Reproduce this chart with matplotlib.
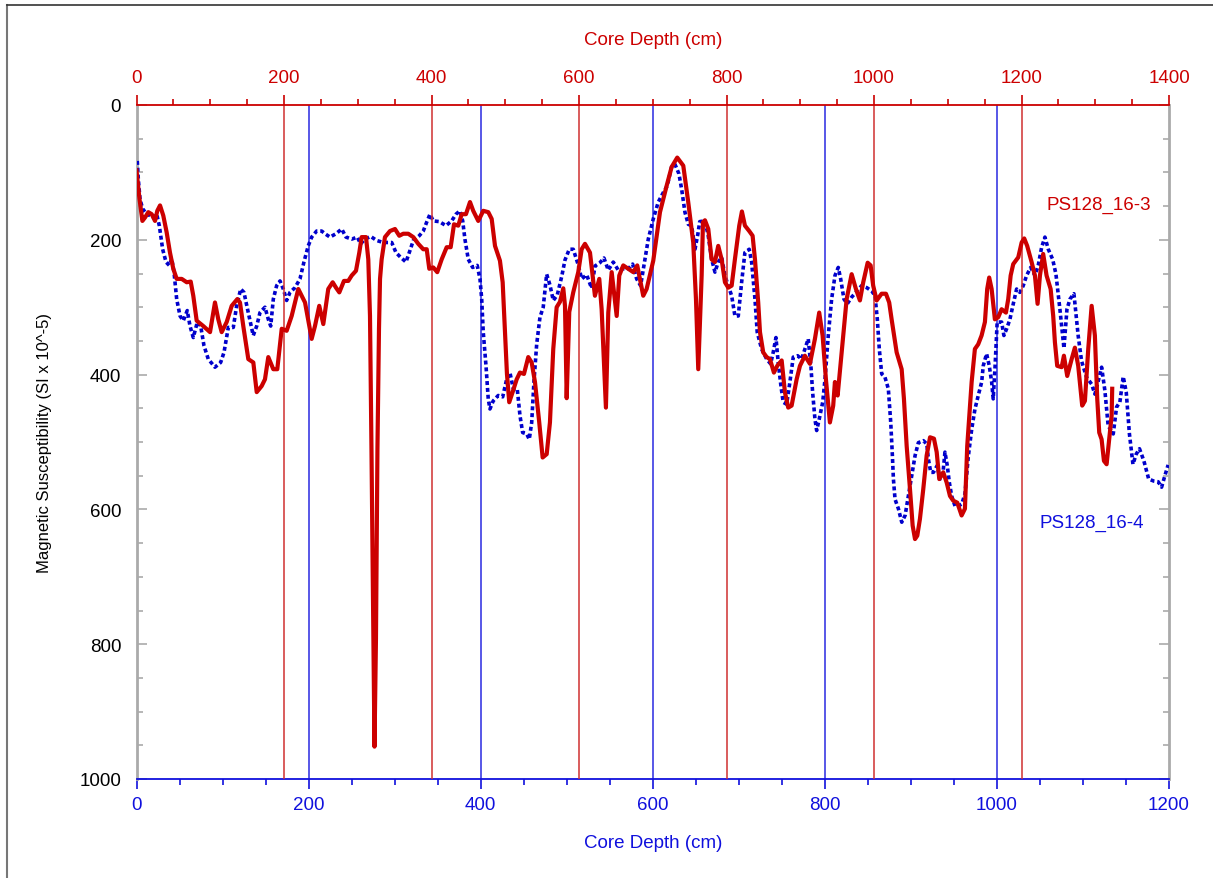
import matplotlib
matplotlib.use("Agg")
import matplotlib.pyplot as plt
from matplotlib.ticker import MultipleLocator
from matplotlib.lines import Line2D

plt.rcParams['font.family'] = ['Liberation Sans', 'DejaVu Sans']

# PS128_16-3 (plotted against the top depth scale)
red_depth = [0, 4, 8, 11.5, 16, 20.6, 25.1, 28.2, 31.9, 36.3, 40.9, 45.4, 49.9, 54.5, 61.3, 68.1, 73.5, 77,
             81.6, 90.6, 99.7, 106.4, 110.9, 115.5, 122.3, 129.1, 136.7, 140.3, 144.8, 151.6, 158.4, 163,
             169.7, 174.2, 178.7, 185.5, 190.9, 196.9, 203.6, 210.4, 219.4, 228.5, 237.5, 242, 247.8, 253.3,
             260, 266, 270.5, 275, 281.3, 287.2, 291.8, 297.6, 302.1, 305.3, 311.2, 314.3, 316.6, 318.6,
             320.6, 322.7, 324.7, 326.7, 328.8, 330.2, 332.4, 336.9, 343.7, 350.5, 356.3, 361.7, 368.5,
             375.3, 382.1, 388.8, 393.5, 397, 402.4, 407.8, 413.8, 420.6, 426, 430.5, 436.3, 440.9, 446.7,
             452.2, 456.6, 463.4, 470.2, 477, 481.6, 486.1, 492.8, 496.5, 499.6, 502.3, 505.4, 510, 515.5,
             519.9, 525.4, 531.2, 535.8, 540.3, 546.1, 550.7, 556.2, 560.6, 565.1, 569.7, 574.2, 578.7, 581,
             583.3, 586.8, 592.2, 599, 603.6, 608.1, 614.9, 621.6, 627.5, 630.7, 636.5, 639.7, 644.3, 651.1,
             654.6, 660, 666.8, 673.6, 679, 682.6, 687.1, 691.7, 700.7, 709.8, 718.8, 725.6, 733.2, 741.4,
             748.1, 754.9, 758.6, 761.7, 766.3, 768.1, 770.8, 775.3, 779.8, 784.3, 788.8, 793.4, 797.9,
             802.4, 807, 811.4, 817.3, 820.9, 825, 830.8, 835.4, 838.6, 843, 845.4, 849.8, 854.4, 858.9,
             864.3, 868.8, 874.8, 879.2, 883.7, 888.3, 895.1, 899.6, 906.3, 913.1, 919.9, 925.7, 930.3,
             934.8, 940.2, 944.7, 947, 950.7, 956.1, 962.9, 969.7, 975.5, 980.9, 985.4, 991.4, 995.4, 998.9,
             1003.6, 1010.3, 1016.2, 1020.6, 1023.9, 1030.7, 1037.5, 1040.6, 1044.3, 1048.8, 1052.4,
             1055.6, 1058.7, 1062.3, 1066.8, 1071.4, 1076, 1081.3, 1085, 1088.5, 1093.9, 1098.5, 1103,
             1107.4, 1112.9, 1118.8, 1123.3, 1126.4, 1130.1, 1132.4, 1136.8, 1141.3, 1145.9, 1150.4,
             1153.5, 1156.2, 1159.5, 1163.9, 1168.4, 1173, 1178.9, 1182, 1185.3, 1188.8, 1195.6, 1200.2,
             1203.7, 1207.7, 1213.7, 1218.2, 1221.8, 1225, 1229.4, 1234, 1239.5, 1243, 1245.3, 1248.4,
             1254.4, 1257.5, 1262, 1268, 1272.4, 1276.9, 1282.3, 1286, 1290.5, 1295.1, 1299.5, 1302.7,
             1305.4, 1308.6, 1311.8, 1315.4, 1318.9, 1322.2, 1323]
red_ms = [97, 139, 172, 167, 159, 162, 172, 157, 149, 164, 189, 219, 243, 258, 258, 263, 262, 283,
          320, 328, 337, 293, 318, 337, 322, 298, 288, 293, 328, 377, 382, 426,
          417, 407, 374, 392, 392, 332, 335, 313, 273, 293, 347, 328, 298, 325,
          273, 263, 271, 278, 261, 261, 253, 246, 219, 196, 196, 229, 313, 510,
          733, 952, 792, 510, 332, 258, 229, 196, 187, 184, 194, 191, 191,
          196, 206, 214, 214, 243, 241, 248, 229, 211, 211, 177, 179, 162, 162,
          144, 157, 172, 157, 159, 169, 209, 231, 263, 337, 399, 441, 426, 407,
          397, 399, 374, 382, 411, 471, 523, 518, 471, 362, 300, 292, 272, 298,
          435, 307, 278, 248, 214, 206, 219, 283, 258, 303, 449, 308, 248, 313,
          253, 238, 243, 248, 238, 258, 283, 273, 231, 159, 120, 92, 78, 90,
          144, 204, 288, 392, 253, 174, 171, 184, 229, 233, 209, 229, 263,
          271, 268, 229, 179, 158, 179, 187, 194, 229, 293, 337, 367, 374, 377,
          397, 387, 379, 426, 449, 446, 407, 387, 372, 384, 347, 308, 342,
          407, 471, 446, 411, 431, 367, 288, 251, 273, 290, 263, 234, 238, 268,
          290, 280, 280, 293, 318, 367, 392, 436, 506, 570, 624,
          644, 639, 614, 570, 520, 493, 495, 515, 555, 545, 560, 580,
          587, 590, 609, 599, 506, 446, 411, 362, 355, 342, 322,
          273, 256, 273, 318, 315, 303, 308, 288, 253, 236, 226, 204,
          198, 209, 233, 253, 295, 253, 221, 253, 273, 313, 352, 387,
          389, 372, 402, 377, 360, 387, 446, 439, 362, 298, 342, 436,
          486, 496, 528, 533, 496, 461, 421]

# PS128_16-4 (plotted against the bottom depth scale)
blue_depth = [0.9, 2.1, 4.1, 7.2, 11.9, 15.7, 19.5, 23.5, 26.5, 30.4, 34.3, 38.1, 40.9, 43.6, 46.7, 50.6,
              54.4, 59, 62.2, 66, 70.7, 74.6, 78.4, 83.4, 91.2, 97.8, 101.7, 106.7, 112.5, 116.4, 121.1,
              124.9, 129.9, 135.7, 139.7, 143.5, 149.3, 153.2, 156, 159, 162.9, 166.8, 170.6, 174.5, 178.4,
              184.2, 190, 194.6, 199.6, 203.6, 209.4, 215.2, 219.1, 224.9, 231.8, 238.5, 243.5, 250.1,
              256.6, 260.5, 265.5, 272.2, 279.1, 286.8, 296.6, 301.6, 307, 313.2, 317.8, 321.7, 328.6,
              333.3, 337.2, 341.1, 344.9, 351.9, 359.7, 366.3, 371.3, 375.9, 379.1, 381.7, 385.6, 390.7,
              396, 399.2, 401.2, 403, 406.2, 408.8, 410.8, 414.6, 420.4, 425.6, 430.2, 434, 437.9, 442.5,
              445.7, 448.8, 453.5, 456.5, 459.3, 461.9, 465.1, 468.9, 472.7, 476.7, 480.5, 484.4, 489,
              494.1, 498, 503, 507.6, 513.1, 517.4, 523.2, 529, 532.8, 538.6, 543.3, 548.3, 554.1, 559.9,
              565.7, 571.5, 576.6, 581.3, 585.9, 589.8, 594.8, 600.6, 606.4, 612.2, 616.8, 621.9, 625.8,
              630.4, 633.6, 637.4, 641.3, 645.2, 649.1, 652.5, 654.6, 660.7, 664.5, 668.5, 672.3, 676.1,
              680.1, 683.9, 687.7, 691.7, 695.5, 699.4, 703.3, 707.1, 712.1, 714.9, 718.8, 721.4, 726.5,
              732.4, 737, 740, 743.2, 745.8, 749, 751.6, 755.6, 759.4, 763.3, 768.4, 773, 776.9, 780.7,
              783.8, 785.8, 788.5, 790.5, 793.5, 797.5, 800.2, 804, 807.9, 811.8, 815.6, 818.4, 822.2,
              826.1, 831.2, 836.2, 842.8, 848.7, 854.5, 858.3, 861, 863.3, 866.1, 869.9, 873.8, 876.6,
              878.5, 879.7, 881.6, 885.5, 889.4, 893.3, 897.1, 901.1, 904.9, 908.7, 914.5, 918.5, 920.3,
              923.1, 926.2, 930.6, 933.8, 936.9, 939.6, 942.3, 944.7, 947.4, 951.3, 955.1, 959.1, 962.9,
              964.8, 966.7, 970.7, 974.5, 978.3, 982.3, 984.1, 988, 991.1, 993.9, 995.7, 997.7, 1000.3,
              1005.5, 1008.1, 1011.3, 1015.1, 1019, 1022.9, 1026.7, 1030.6, 1034.5, 1039.2, 1044.2, 1048,
              1052, 1055.8, 1059.7, 1064.8, 1068.6, 1073.3, 1077.9, 1081.4, 1084.9, 1089.5, 1094.5, 1098.4,
              1104.2, 1110, 1113.9, 1117.7, 1121.7, 1125.5, 1129.3, 1135.2, 1139.1, 1142.9, 1146.8,
              1150.3, 1154, 1158.1, 1161.9, 1165.7, 1170.8, 1176.4, 1182.4, 1187.4, 1191.4, 1195.2, 1199]
blue_ms = [83, 110, 140, 154, 162, 164, 167, 162, 179, 214, 233, 238, 228, 248, 288, 313,
           320, 305, 328, 345, 322, 328, 357, 377, 389, 382, 367, 330, 330, 298, 273,
           278, 308, 342, 328, 308, 300, 318, 328, 288, 268, 261, 273, 290, 278,
           271, 258, 233, 209, 196, 187, 187, 191, 196, 191, 184, 196, 199,
           196, 206, 199, 195, 201, 204, 204, 219, 226, 233, 216, 201, 194,
           187, 174, 162, 172, 173, 179, 172, 162, 157, 172, 199, 229, 241,
           238, 258, 288, 337, 387, 436, 451, 439, 431, 433, 407, 397, 421, 421,
           461, 486, 488, 496, 471, 411, 355, 315, 300, 251, 267, 290, 282,
           255, 230, 214, 214, 236, 258, 252, 272, 239, 234, 227, 245, 233, 245,
           243, 243, 236, 258, 268, 238, 199, 169, 144, 130, 120, 92, 88,
           102, 125, 159, 177, 179, 214, 191, 173, 172, 194, 229, 248, 233,
           226, 253, 268, 283, 313, 313, 263, 219, 214, 233, 288, 337, 362,
           377, 384, 367, 345, 382, 417, 441, 444, 411, 374, 372, 377, 362, 347,
           387, 426, 466, 483, 466, 441, 407, 342, 288, 253, 241, 258, 288,
           295, 285, 278, 268, 271, 276, 283, 318, 362, 399, 404, 421, 471,
           520, 555, 585, 599, 619, 609, 580, 550, 520, 501, 498, 503, 525,
           545, 545, 535, 555, 552, 515, 535, 560, 580, 595, 595, 592, 577,
           550, 522, 481, 451, 431, 411, 387, 369, 387, 411, 436, 392, 322,
           322, 342, 332, 318, 295, 273, 278, 268, 253, 241, 253, 238,
           211, 196, 214, 229, 251, 304, 361, 303, 288, 280, 343, 380,
           404, 414, 429, 410, 389, 424, 476, 488, 448, 441, 403,
           426, 488, 533, 518, 510, 528, 555, 558, 559, 567, 550, 534]

blue_marks = [200, 400, 600, 800, 1000]
red_marks = [200, 400, 600, 800, 1000, 1200]

RED = '#cc0000'
BLUE = '#0000cc'
AXBLUE = '#1010dd'
GRAY = '#aaaaaa'

fig = plt.figure(figsize=(12.13, 8.79), dpi=100)
ax = fig.add_axes([136.5 / 1213, 1 - 780 / 879, 1032.5 / 1213, 674 / 879])
ax2 = ax.twiny()

# reference lines
for d in blue_marks:
    ax.axvline(d, color='#2a2ae0', lw=1.1, zorder=1)
for d in red_marks:
    ax2.axvline(d, color='#d03030', lw=1.1, zorder=1)

ax.plot(blue_depth, blue_ms, color=BLUE, lw=2.6, linestyle=(0, (1.1, 0.8)), zorder=3)
ax2.plot(red_depth, red_ms, color=RED, lw=3.0, zorder=3)

ax.set_xlim(0, 1200)
ax2.set_xlim(0, 1400)
ax.set_ylim(1000, 0)

# spines
ax.spines['top'].set_visible(False)
ax.spines['bottom'].set_color(AXBLUE)
ax.spines['bottom'].set_linewidth(1.3)
for s in ['left', 'right']:
    ax.spines[s].set_color(GRAY)
    ax.spines[s].set_linewidth(2)
for s in ['left', 'right', 'bottom']:
    ax2.spines[s].set_visible(False)
ax2.spines['top'].set_color(RED)
ax2.spines['top'].set_linewidth(1.3)

# bottom axis
ax.xaxis.set_major_locator(MultipleLocator(200))
ax.xaxis.set_minor_locator(MultipleLocator(50))
ax.tick_params(axis='x', which='major', direction='out', length=7, width=1.2,
               color=AXBLUE, labelcolor=AXBLUE, labelsize=13.5, pad=5)
ax.tick_params(axis='x', which='minor', direction='out', length=4, width=1.2, color=AXBLUE)

# y axis
ax.yaxis.set_major_locator(MultipleLocator(200))
ax.yaxis.set_minor_locator(MultipleLocator(50))
ax.tick_params(axis='y', which='both', direction='in', left=True, right=True,
               color=GRAY, width=1.2, labelsize=13.5, pad=11)
ax.tick_params(axis='y', which='major', length=7)
ax.tick_params(axis='y', which='minor', length=4.3)

# top axis
ax2.xaxis.set_major_locator(MultipleLocator(200))
ax2.xaxis.set_minor_locator(MultipleLocator(50))
ax2.tick_params(axis='x', which='major', direction='out', length=7, width=1.2,
                color=RED, labelcolor=RED, labelsize=13.5, pad=7)
ax2.tick_params(axis='x', which='minor', direction='out', length=4, width=1.2, color=RED)
ax2.tick_params(axis='y', left=False, right=False, labelleft=False, labelright=False)

ax.set_xlabel('Core Depth (cm)', color=AXBLUE, fontsize=13.5)
ax.xaxis.set_label_coords(0.5, -0.082)
ax2.set_xlabel('Core Depth (cm)', color=RED, fontsize=13.5)
ax2.xaxis.set_label_coords(0.5, 1.091)
ax.set_ylabel('Magnetic Susceptibility (SI x 10^-5)', fontsize=12)
ax.yaxis.set_label_coords(-0.082, 0.5)

ax2.text(1234, 147, 'PS128_16-3', color=RED, fontsize=13.5, ha='left', va='center')
ax.text(1049, 619, 'PS128_16-4', color=AXBLUE, fontsize=13.5, ha='left', va='center')

# outer frame (only left and top edges visible)
fig.add_artist(Line2D([7 / 1213, 7 / 1213], [0, 1 - 6 / 879], transform=fig.transFigure,
                      color='#777777', lw=1.5))
fig.add_artist(Line2D([7 / 1213, 1], [1 - 6 / 879, 1 - 6 / 879], transform=fig.transFigure,
                      color='#333333', lw=1.2))

fig.savefig('out.png', dpi=100)
